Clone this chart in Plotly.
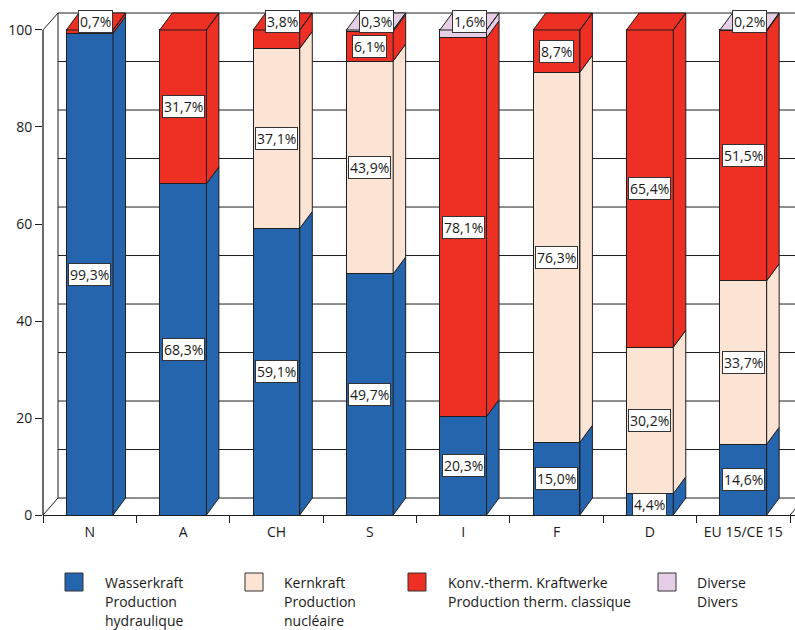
import plotly.graph_objects as go

# ---------------- data ----------------
categories = ["N", "A", "CH", "S", "I", "F", "D", "EU 15/CE 15"]
wasserkraft = [99.3, 68.3, 59.1, 49.7, 20.3, 15.0, 4.4, 14.6]
kernkraft = [0, 0, 37.1, 43.9, 0, 76.3, 30.2, 33.7]
konv_therm = [0.7, 31.7, 3.8, 6.1, 78.1, 8.7, 65.4, 51.5]
diverse = [0, 0, 0, 0.3, 1.6, 0, 0, 0.2]
y_ticks = [0, 20, 40, 60, 80, 100]
grid_values = list(range(0, 101, 10))

legend_lines = [
    ["Wasserkraft", "Production", "hydraulique"],
    ["Kernkraft", "Production", "nucléaire"],
    ["Konv.-therm. Kraftwerke", "Production therm. classique"],
    ["Diverse", "Divers"],
]

# ---------------- style ----------------
colors = ["#2465AE", "#FCE4D4", "#EE2F24", "#E6CFE6"]
series = [wasserkraft, kernkraft, konv_therm, diverse]
FONT = "Open Sans"
W, H = 795, 630
L, R, T, B = 43, 0, 12, 115
PW, PH = W - L - R, H - T - B
XR = [-0.5, 7.5 + 5 / 93.375]
YR = [0, 103.71]
BW = 0.5          # bar width
BDX, DY = 0.134, 3.5   # bar depth offset (x units, y units)
WDX = 0.161            # wall depth offset
LINE = "#1e1e1e"

n = len(categories)
xs = list(range(n))

fig = go.Figure()

# front faces
for vals, col, nm in zip(series, colors, [l[0] for l in legend_lines]):
    fig.add_trace(go.Bar(
        x=xs, y=[v if v > 0 else None for v in vals], width=BW,
        marker=dict(color=col, line=dict(color=LINE, width=1)),
        name=nm, showlegend=False, hoverinfo="skip"))

# side and top faces (computed from the stacked values)
for si, (vals, col) in enumerate(zip(series, colors)):
    px, py = [], []
    for i in range(n):
        v = vals[i]
        if v <= 0:
            continue
        b = sum(series[k][i] for k in range(si))
        t = b + v
        xr = i + BW / 2
        px += [xr, xr + BDX, xr + BDX, xr, xr, None]
        py += [b, b + DY, t + DY, t, b, None]
        if all(series[k][i] <= 0 for k in range(si + 1, len(series))):
            xl = i - BW / 2
            px += [xl, xl + BDX, xr + BDX, xr, xl, None]
            py += [t, t + DY, t + DY, t, t, None]
    fig.add_trace(go.Scatter(
        x=px, y=py, mode="lines", fill="toself", fillcolor=col,
        line=dict(color=LINE, width=1), showlegend=False, hoverinfo="skip"))

# value labels
def fmt(v):
    return f"{v:.1f}".replace(".", ",") + "%"

for si, vals in enumerate(series):
    for i in range(n):
        v = vals[i]
        if v <= 0:
            continue
        b = sum(series[k][i] for k in range(si))
        topmost = all(series[k][i] <= 0 for k in range(si + 1, len(series)))
        if topmost and v < 5 and si > 0:
            ax, ay = i + BDX / 2, b + v + DY / 2
        else:
            ax, ay = i, b + v / 2
        fig.add_annotation(
            x=ax, y=ay, text=fmt(v), showarrow=False,
            font=dict(family=FONT, size=14, color="#1a1a1a"),
            bgcolor="white", bordercolor="#333333", borderwidth=1, borderpad=1)

# back wall / floor lines
shapes = []
for g in grid_values:
    shapes.append(dict(type="line", xref="x", yref="y", layer="below",
                       x0=-0.5 + WDX, x1=XR[1], y0=g + DY, y1=g + DY,
                       line=dict(color=LINE, width=1)))
shapes += [
    dict(type="line", xref="x", yref="y", layer="below",
         x0=-0.5 + WDX, x1=-0.5 + WDX, y0=DY, y1=100 + DY, line=dict(color=LINE, width=1)),
    dict(type="line", xref="x", yref="y", layer="below",
         x0=-0.5, x1=-0.5 + WDX, y0=0, y1=DY, line=dict(color=LINE, width=1)),
    dict(type="line", xref="x", yref="y", layer="below",
         x0=-0.5, x1=-0.5 + WDX, y0=100, y1=100 + DY, line=dict(color=LINE, width=1)),
    dict(type="line", xref="x", yref="y", layer="below",
         x0=7.5, x1=7.5 + WDX, y0=0, y1=DY, line=dict(color=LINE, width=1)),
    dict(type="line", xref="paper", yref="y", layer="above",
         x0=0, x1=0, y0=0, y1=100, line=dict(color=LINE, width=1.3)),
]

# manual legend
def xp(p):
    return (p - L) / PW

def yp(p):
    return (T + PH - p) / PH

sq_x = [65, 245, 408, 658]
tx_x = [104, 283, 447, 696]
for k in range(4):
    shapes.append(dict(type="rect", xref="paper", yref="paper",
                       x0=xp(sq_x[k]), x1=xp(sq_x[k] + 18), y0=yp(591), y1=yp(573),
                       fillcolor=colors[k], line=dict(color="#333333", width=1)))
    for j, txt in enumerate(legend_lines[k]):
        fig.add_annotation(x=xp(tx_x[k]), y=yp(582 + 19 * j), xref="paper", yref="paper",
                           text=txt, showarrow=False, xanchor="left", yanchor="middle",
                           borderpad=0,
                           font=dict(family=FONT, size=14, color="#1a1a1a"))

fig.update_layout(
    width=W, height=H, barmode="stack",
    margin=dict(l=L, r=R, t=T, b=B, pad=0),
    paper_bgcolor="white", plot_bgcolor="white",
    showlegend=False, shapes=shapes,
    font=dict(family=FONT, size=14, color="#1a1a1a"),
    xaxis=dict(range=XR, tickvals=xs, ticktext=categories, ticks="",
               showline=True, linecolor=LINE, linewidth=1.3, showgrid=False,
               zeroline=False, ticklabelstandoff=4,
               tickfont=dict(family=FONT, size=14, color="#1a1a1a"),
               minor=dict(tickvals=[i - 0.5 for i in range(n + 1)], ticks="outside",
                          ticklen=7, tickcolor=LINE, tickwidth=1, showgrid=False)),
    yaxis=dict(range=YR, tickvals=y_ticks, ticks="outside", ticklen=7,
               tickcolor=LINE, showline=False, showgrid=False, zeroline=False,
               tickfont=dict(family=FONT, size=14, color="#1a1a1a")),
)

fig.write_html("out.html", config={"displayModeBar": False},
               post_script="document.body.style.margin='0';document.body.style.overflow='hidden';")
